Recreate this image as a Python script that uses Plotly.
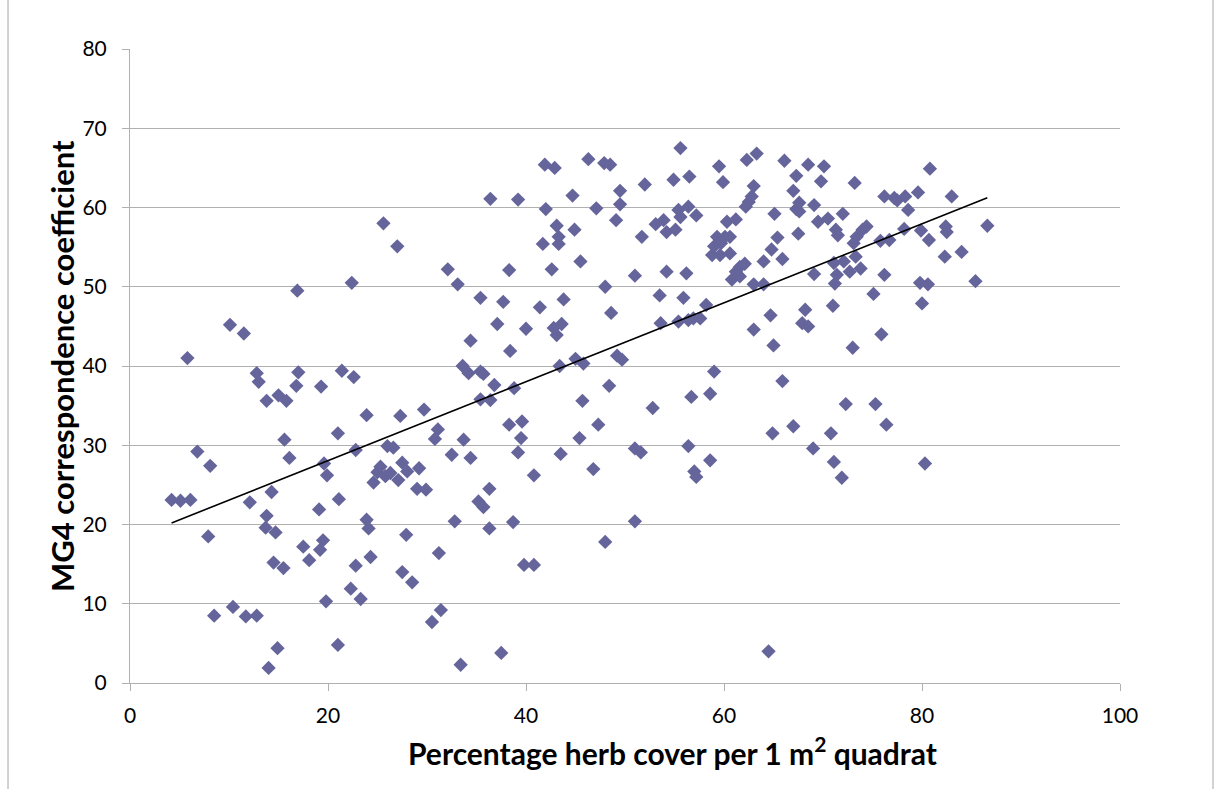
import plotly.graph_objects as go

# Herb cover (%) per 1 m2 quadrat and the MG4 correspondence coefficient of each quadrat
herb_cover = [
    4.2, 5.1, 6.1, 5.8, 6.8, 8.1, 7.9, 8.5, 10.1, 10.4, 11.5, 12.1, 11.7, 12.8, 12.8, 13.0,
    13.8, 13.8, 13.7, 14.0, 14.3, 14.7, 14.5, 14.9, 15.0, 15.8, 15.6, 15.5, 16.1, 16.8,
    16.9, 17.0, 17.5, 18.1, 19.1, 19.3, 19.2, 19.6, 19.5, 19.9, 19.8, 21.0, 21.0, 21.1,
    21.4, 22.3, 22.4, 22.6, 22.8, 22.8, 23.3, 23.9, 23.9, 24.1, 24.3, 25.6,
    24.6, 25.0, 25.3, 25.8, 26.3, 27.1, 27.5, 28.0, 29.2,
    26.0, 26.6, 27.0, 27.3, 27.9, 27.5, 28.5, 29.0, 29.9, 29.7, 30.5, 30.8, 31.1, 31.2,
    31.4, 32.1, 32.5, 32.8, 33.1, 33.4, 33.6, 33.7, 34.2, 34.4, 34.4, 35.2, 35.4, 35.4,
    35.7, 35.7, 35.4, 36.3, 36.4, 36.3, 36.4, 36.8, 37.1, 37.5, 37.7, 38.3, 38.3, 38.4,
    38.7, 38.8, 39.2, 39.2, 39.5, 39.6, 39.8, 40.0, 40.8, 40.8,
    41.4, 41.7, 41.9, 42.0, 42.6, 42.8, 42.9, 43.1, 43.1, 43.3, 43.3, 43.6, 43.4, 43.5,
    43.8, 44.9, 44.7, 45.0, 45.5, 45.8, 45.7, 45.4, 46.3, 46.8, 47.1, 47.3, 47.9, 48.0,
    48.0, 48.5, 48.4, 48.6, 49.1, 49.2, 49.7, 49.5, 49.5, 51.0, 51.0, 51.0, 51.6, 51.7,
    52.0, 52.8, 53.1, 53.5, 53.6, 53.9, 54.2, 54.2, 54.9, 55.1, 55.4, 55.6, 55.6, 55.4,
    55.9, 56.2, 56.4, 56.4, 56.5, 56.4, 56.7, 57.2, 57.0, 57.2, 56.9, 57.6, 58.2, 58.6,
    58.6, 58.8, 59.0, 59.3, 59.0, 59.7, 59.5, 59.9, 59.6, 60.1, 60.3, 60.6, 60.6,
    60.8, 61.2, 61.2, 61.6, 61.6, 62.1, 62.2, 62.3, 62.5, 62.8, 63.0, 63.0, 63.0, 63.3,
    64.0, 64.0, 64.5, 64.8, 64.7, 64.9, 65.0, 65.1, 65.4, 65.9, 65.9, 66.1, 67.0, 67.0,
    67.3, 67.5, 67.3, 67.6, 67.6, 67.9, 68.2, 68.5, 68.5, 69.0, 69.1, 69.1, 69.5, 69.8,
    70.1, 70.5, 70.8, 71.0, 71.1, 71.1, 71.3, 71.5, 71.4, 71.2, 71.9, 72.0, 72.1, 72.3,
    72.7, 73.0, 73.1, 73.2, 73.3, 73.4, 73.8, 74.0, 74.4, 75.1, 75.3, 75.9, 75.8, 76.2,
    76.2, 76.4, 76.7, 77.2, 77.5, 78.2, 78.3, 78.6, 79.6, 79.8, 79.9, 80.0, 80.3, 80.6,
    80.7, 80.8, 82.3, 82.4, 82.5, 83.0, 84.0, 85.4, 86.6,
]
mg4_coefficient = [
    23.1, 23.0, 23.1, 41.0, 29.2, 27.4, 18.5, 8.5, 45.2, 9.6, 44.1, 22.8, 8.4, 8.5, 39.1, 38.0,
    35.6, 21.1, 19.6, 1.9, 24.1, 19.0, 15.2, 4.4, 36.3, 35.6, 30.7, 14.5, 28.4, 37.5,
    49.5, 39.2, 17.2, 15.5, 21.9, 37.4, 16.8, 27.7, 18.0, 26.2, 10.3, 4.8, 31.5, 23.2,
    39.4, 11.9, 50.5, 38.6, 29.4, 14.8, 10.6, 33.8, 20.6, 19.5, 15.9, 58.0,
    25.3, 26.6, 27.3, 26.1, 26.5, 25.6, 27.8, 26.7, 27.1,
    29.9, 29.7, 55.1, 33.7, 18.7, 14.0, 12.7, 24.5, 24.4, 34.5, 7.7, 30.8, 32.0, 16.4,
    9.2, 52.2, 28.8, 20.4, 50.3, 2.3, 40.0, 30.7, 39.1, 43.2, 28.4, 22.9, 39.3, 48.6,
    39.0, 22.2, 35.8, 24.5, 61.1, 19.5, 35.7, 37.6, 45.3, 3.8, 48.1, 32.6, 52.1, 41.9,
    20.3, 37.2, 61.0, 29.1, 30.9, 33.0, 14.9, 44.7, 26.2, 14.9,
    47.4, 55.4, 65.4, 59.8, 52.2, 44.8, 65.0, 43.9, 57.7, 56.3, 55.4, 45.3, 40.0, 28.9,
    48.4, 57.2, 61.5, 40.9, 53.2, 40.3, 35.6, 30.9, 66.1, 27.0, 59.9, 32.6, 65.6, 50.0,
    17.8, 65.4, 37.5, 46.7, 58.4, 41.3, 40.8, 60.4, 62.1, 51.4, 29.6, 20.4, 29.1, 56.3,
    62.9, 34.7, 57.9, 48.9, 45.4, 58.4, 51.9, 56.9, 63.5, 57.2, 59.7, 58.8, 67.5, 45.6,
    48.6, 51.7, 29.9, 60.1, 63.9, 45.8, 36.1, 59.0, 26.7, 26.0, 46.0, 46.0, 47.7, 36.5,
    28.1, 54.0, 39.3, 56.3, 55.1, 55.5, 65.2, 63.2, 54.0, 56.3, 58.2, 56.3, 54.2,
    50.9, 51.9, 58.5, 52.5, 51.3, 52.9, 60.1, 66.0, 60.7, 61.4, 62.7, 44.6, 50.3, 66.8,
    53.2, 50.3, 4.0, 54.7, 46.4, 31.5, 42.6, 59.2, 56.2, 38.1, 53.5, 65.9, 32.4, 62.1,
    64.0, 56.7, 59.8, 59.5, 60.6, 45.4, 47.1, 45.0, 65.4, 29.6, 51.6, 60.3, 58.2, 63.3,
    65.2, 58.6, 31.5, 47.6, 27.9, 53.0, 57.2, 56.5, 51.5, 50.4, 25.9, 59.2, 53.2, 35.2,
    51.9, 42.3, 55.5, 63.1, 53.8, 56.3, 52.3, 57.2, 57.6, 49.1, 35.2, 44.0, 55.8, 51.5,
    61.4, 32.6, 55.9, 61.2, 60.9, 57.3, 61.4, 59.7, 61.9, 50.5, 57.1, 47.9, 27.7, 50.3,
    55.9, 64.9, 53.8, 57.6, 56.9, 61.4, 54.4, 50.7, 57.7,
]

# Linear trendline: coefficient = slope * cover + intercept, over the sampled cover range
trend_slope = 0.498
trend_intercept = 18.1
trend_x = [min(herb_cover), max(herb_cover)]
trend_y = [trend_slope * v + trend_intercept for v in trend_x]

x_ticks = [0, 20, 40, 60, 80, 100]
y_ticks = [0, 10, 20, 30, 40, 50, 60, 70, 80]

FONT = "Lato, 'Open Sans', sans-serif"
AXIS_GREY = "#b0b0b0"

fig = go.Figure()
fig.add_trace(go.Scatter(
    x=herb_cover, y=mg4_coefficient, mode="markers",
    marker=dict(symbol="diamond", size=11, color="#65659c", line=dict(width=0)),
    hoverinfo="x+y", showlegend=False,
))
fig.add_trace(go.Scatter(
    x=trend_x, y=trend_y, mode="lines",
    line=dict(color="black", width=1.6),
    hoverinfo="skip", showlegend=False,
))

# plot area geometry in pixels
W, H = 1220, 789
L, R, T, B = 130, 100, 49, 106
pw, ph = W - L - R, H - T - B


def px_x(p):
    return (p - L) / pw


def px_y(p):
    return (H - B - p) / ph


fig.update_layout(
    width=W, height=H,
    margin=dict(l=L, r=R, t=T, b=B, pad=0),
    paper_bgcolor="white", plot_bgcolor="white",
    font=dict(family=FONT, size=21, color="black"),
    xaxis=dict(
        range=[0, 100], tickvals=x_ticks, showgrid=False, zeroline=False,
        showline=True, linecolor=AXIS_GREY, linewidth=1,
        ticks="outside", ticklen=7, tickcolor=AXIS_GREY, tickwidth=1,
        ticklabelstandoff=7,
    ),
    yaxis=dict(
        range=[0, 80], tickvals=y_ticks, showgrid=True, gridcolor=AXIS_GREY, gridwidth=1,
        zeroline=False, showline=True, linecolor=AXIS_GREY, linewidth=1,
        ticks="outside", ticklen=7, tickcolor=AXIS_GREY, tickwidth=1,
        ticklabelstandoff=11,
    ),
    annotations=[
        dict(text="Percentage herb cover per 1 m<sup>2</sup> quadrat",
             xref="paper", yref="paper", x=px_x(672), y=px_y(751),
             xanchor="center", yanchor="middle", showarrow=False,
             font=dict(family=FONT, size=30, color="black", weight="bold")),
        dict(text="MG4 correspondence coefficient",
             xref="paper", yref="paper", x=px_x(62), y=px_y(366),
             xanchor="center", yanchor="middle", showarrow=False, textangle=-90,
             font=dict(family=FONT, size=31, color="black", weight="bold")),
    ],
    shapes=[
        dict(type="line", xref="paper", yref="paper",
             x0=px_x(8), x1=px_x(8), y0=px_y(-5), y1=px_y(H + 5),
             line=dict(color="#a6a6a6", width=1)),
        dict(type="line", xref="paper", yref="paper",
             x0=px_x(1213), x1=px_x(1213), y0=px_y(-5), y1=px_y(H + 5),
             line=dict(color="#a6a6a6", width=1)),
    ],
)

fig.write_html("out.html")
